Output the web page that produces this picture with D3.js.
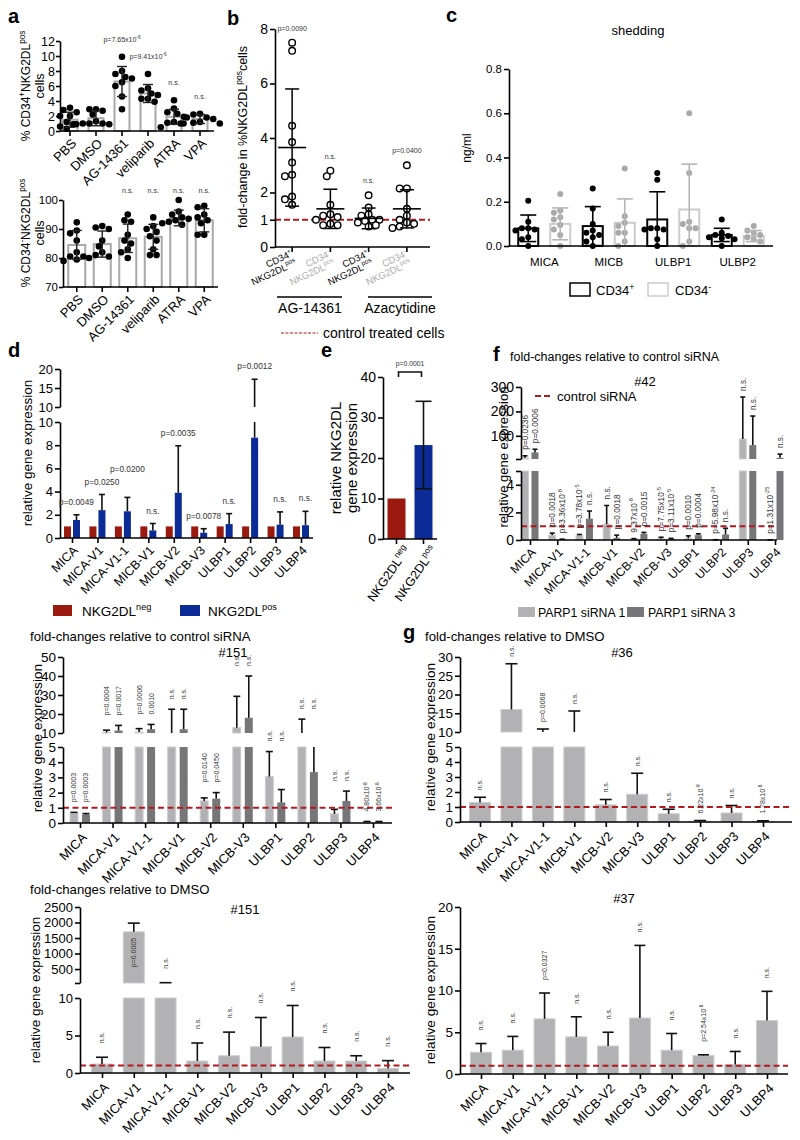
<!DOCTYPE html>
<html><head><meta charset="utf-8">
<script src="https://cdn.jsdelivr.net/npm/d3@7"></script>
<style>body{margin:0;background:#fff} svg text{-webkit-font-smoothing:antialiased}</style>
</head><body>
<svg id="fig" width="800" height="1140"></svg>
<script>
// ---------------- DATA ----------------
const treatments = ["PBS","DMSO","AG-14361","veliparib","ATRA","VPA"];
const aTopMean = [1.5,1.7,6.6,5.0,1.9,1.6];
const aTopSD = [1.0,1.0,2.0,1.2,1.0,0.6];
const aTopPts = [[3.1,2.8,2.5,2.0,2.0,1.2,0.9,0.6,0.3],[2.9,2.9,2.7,2.2,1.3,1.0,1.0,0.9,0.9,1.0],[9.9,8.0,7.6,7.2,7.0,6.5,6.0,4.6,2.9],[7.6,5.7,5.4,5.0,4.8,4.3,4.3,3.9],[4.1,3.0,2.5,2.3,1.9,1.2,1.1,1.0,0.5],[2.3,2.2,1.8,1.8,1.6,1.2,1.1,1.0,1.0]];
const aTopP = ["","","p=7.65x10{-6}","p=9.41x10{-6}","n.s.","n.s."];
const aBotMean = [84.5,84.8,86.8,87.3,93.8,93.0];
const aBotSD = [5.0,4.5,4.9,4.3,2.7,4.0];
const aBotPts = [[92.3,89.5,88.5,86,82,80.5,79.5,79,80.5],[91,90.5,90,86,84,82,80.5,80,81],[95,93,92.5,88,86,85,83,80,82],[94,91,90,89,87.5,86,83,81,81],[100,96,95,94,93.5,93,92.5,92,91.5],[98,97.5,95,94,93,92,88,88]];
const aBotP = ["","","n.s.","n.s.","n.s.","n.s."];

const bLine1 = ["CD34{+}","CD34{-}","CD34{+}","CD34{-}"];
const bLine2 = ["NKG2DL{pos}","NKG2DL{pos}","NKG2DL{pos}","NKG2DL{pos}"];
const bMean = [3.65,1.4,1.05,1.4];
const bSD = [2.15,0.72,0.38,0.7];
const bPts = [[7.5,7.2,4.45,3.85,3.1,2.65,2.6,1.85,1.75,1.55],[2.8,2.6,1.55,1.2,1.15,1.1,1.0,0.85,0.8,0.8],[1.9,1.45,1.2,1.15,1.0,1.0,0.95,0.9,0.8,0.75],[3.0,2.15,2.15,1.4,1.15,1.0,0.9,0.85,0.75,0.7]];
const bP = ["p=0.0090","n.s.","n.s.","p=0.0400"];
const bGroups = ["AG-14361","Azacytidine"];

const cCats = ["MICA","MICB","ULBP1","ULBP2"];
const cPosMean = [0.08,0.09,0.12,0.05];
const cPosSD = [0.06,0.088,0.125,0.03];
const cNegMean = [0.1,0.105,0.165,0.045];
const cNegSD = [0.072,0.108,0.205,0.025];
const cPosPts = [[0.205,0.11,0.08,0.08,0.075,0.07,0.04,0.03,0.0],[0.26,0.17,0.1,0.07,0.06,0.05,0.04,0.02,0.0],[0.33,0.30,0.08,0.08,0.075,0.075,0.03,0.0],[0.12,0.06,0.05,0.045,0.04,0.035,0.03,0.0]];
const cNegPts = [[0.235,0.16,0.15,0.13,0.12,0.095,0.075,0.05,0.0],[0.35,0.135,0.105,0.09,0.06,0.06,0.02,0.0],[0.6,0.33,0.11,0.1,0.08,0.08,0.02,0.0],[0.09,0.07,0.06,0.05,0.04,0.03,0.02]];

const genes = ["MICA","MICA-V1","MICA-V1-1","MICB-V1","MICB-V2","MICB-V3","ULBP1","ULBP2","ULBP3","ULBP4"];
const dNeg = [1,1,1,1,1,1,1,1,1,1];
const dPos = [1.55,2.4,2.3,0.65,3.9,0.45,1.2,8.65,1.15,1.1];
const dPosErr = [2.0,3.75,3.5,1.25,7.95,0.8,2.1,17.3,2.25,2.3];
const dP = ["p=0.0049","p=0.0250","p=0.0200","n.s.","p=0.0035","p=0.0078","n.s.","p=0.0012","n.s.","n.s."];

const eCats = ["NKG2DL{neg}","NKG2DL{pos}"];
const eVals = [10,23.2];
const eSD = [0,10.8];

const f1 = [10,0.35,0.35,1.15,0.08,0.1,0.12,0.02,87,0.01];
const f1Err = [18,0.5,0.4,2.5,0.1,0.2,0.3,0.02,259,0.01];
const f3 = [32,0.05,1.55,0.15,0.45,0.08,0.35,0.4,62,10];
const f3Err = [45,0.06,2.1,0.35,0.55,0.12,0.45,0.85,181,25];
const f1P = ["p=0.0236","p=0.0018","p=3.78x10{-5}","n.s.","9.37x10{-8}","p=7.75x10{-5}","p=0.0010","p=5.98x10{-24}","n.s.","p=1.31x10{-25}"];
const f3P = ["p=0.0006","p=3.36x10{-8}","n.s.","p=0.0018","p=0.0015","p=3.11x10{-5}","p=0.0004","n.s.","n.s.","n.s."];

const s151a = [0.65,10.3,10.5,9.5,1.45,12.8,3.05,9.5,0.6,0.07];
const s151aErr = [0.7,11.5,12.3,22.5,1.65,29.3,4.7,17.3,0.9,0.1];
const s151b = [0.55,11.3,12.0,12.0,1.6,18.0,1.35,3.35,1.45,0.08];
const s151bErr = [0.62,14.0,14.5,22.5,2.0,40.0,2.2,7.0,2.1,0.1];
const s151aP = ["p=0.0003","p=0.0004","p=0.0006","n.s.","p=0.0140","n.s.","n.s.","n.s.","n.s.","4.80x10{-8}"];
const s151bP = ["p=0.0003","p=0.0017","0.0010","n.s.","p=0.0450","n.s.","n.s.","n.s.","n.s.","3.66x10{-8}"];

const g36 = [1.3,16,8,7,1.15,1.85,0.55,0.05,0.6,0.03];
const g36Err = [1.65,28.2,10.8,15.6,1.5,3.25,0.85,0.1,1.1,0.08];
const g36P = ["n.s.","n.s.","p=0.0068","n.s.","n.s.","n.s.","n.s.","6.22x10{-9}","n.s.","1.78x10{-8}"];

const d151 = [1.2,1700,30,1.6,2.3,3.5,4.8,1.6,1.6,0.6];
const d151Err = [2.1,1980,60,4.0,5.45,7.4,9.0,3.4,2.3,1.65];
const d151P = ["n.s.","p=0.0005","n.s.","n.s.","n.s.","n.s.","n.s.","n.s.","n.s.","n.s."];

const g37 = [2.6,2.85,6.6,4.45,3.35,6.7,2.85,2.2,1.15,6.4];
const g37Err = [3.65,4.5,9.7,6.85,5.0,15.4,4.85,2.3,2.7,9.9];
const g37P = ["n.s.","n.s.","p=0.0327","n.s.","n.s.","n.s.","n.s.","p=2.54x10{-6}","n.s.","n.s."];

// ---------------- HELPERS ----------------
const FF = "'Liberation Sans', Arial, Helvetica, sans-serif";
const svg = d3.select("#fig").attr("font-family", FF);
const RED = "#b3191d", LG = "#b2b2b5", DG = "#767678", BRED = "#9a1a10", BLUE = "#0b2b97";

function rich(t, str, fs) {
  const parts = str.split(/(\{[^}]*\})/).filter(s => s.length);
  let up = false;
  parts.forEach(p => {
    if (p[0] === "{") {
      t.append("tspan").attr("font-size", fs * 0.68).attr("dy", -fs * 0.42).text(p.slice(1, -1));
      up = true;
    } else {
      const s = t.append("tspan").text(p);
      if (up) { s.attr("dy", fs * 0.42); up = false; }
    }
  });
}
function T(g, x, y, str, o = {}) {
  const fs = o.fs || 13;
  const t = g.append("text").attr("x", x).attr("y", y).attr("font-size", fs)
    .attr("fill", o.fill || "#000").attr("text-anchor", o.anchor || "start");
  if (o.rot != null) t.attr("transform", `rotate(${o.rot},${x},${y})`);
  if (o.dy) t.attr("dy", o.dy);
  if (o.weight) t.attr("font-weight", o.weight);
  rich(t, str, fs);
  return t;
}
function L(g, x1, y1, x2, y2, c = "#000", w = 1.6, dash) {
  const l = g.append("line").attr("x1", x1).attr("y1", y1).attr("x2", x2).attr("y2", y2)
    .attr("stroke", c).attr("stroke-width", w);
  if (dash) l.attr("stroke-dasharray", dash);
  return l;
}
function styleAx(a, fs) {
  a.attr("font-family", FF).attr("font-size", fs);
  a.selectAll("path,line").attr("stroke", "#000").attr("stroke-width", 1.6);
  a.selectAll("text").attr("fill", "#000");
}
function yAx(g, x, sc, ticks, fs, fmt, hide, tsz, pad) {
  const a = g.append("g").attr("transform", `translate(${x},0)`)
    .call(d3.axisLeft(sc).tickValues(ticks).tickSize(tsz || 5).tickSizeOuter(0).tickPadding(pad != null ? pad : 2)
      .tickFormat(v => (hide && hide.includes(v)) ? "" : (fmt ? fmt(v) : v)));
  styleAx(a, fs);
  return a;
}
function xAx(g, sc, y, x0, x1, fs, lx, ly, ang, keepText) {
  const a = g.append("g").attr("transform", `translate(0,${y})`)
    .call(d3.axisBottom(sc).tickSize(5).tickSizeOuter(0));
  a.select(".domain").remove();
  styleAx(a, fs);
  if (keepText) {
    a.selectAll(".tick text").attr("text-anchor", "end").attr("x", 0).attr("y", 0).attr("dy", "0.35em")
      .attr("transform", `translate(${lx},${ly}) rotate(${ang})`);
  } else a.selectAll(".tick text").remove();
  L(g, x0, y, x1, y);
  return a;
}
function swarm(vals, ysc, r, step) {
  const idx = vals.map((v, i) => i).sort((a, b) => vals[b] - vals[a]);
  const pos = new Array(vals.length), placed = [];
  idx.forEach(i => {
    const py = ysc(vals[i]);
    const cands = [0];
    for (let k = 1; k <= 6; k++) cands.push(-k * step, k * step);
    pos[i] = 0;
    for (const c of cands) {
      if (placed.every(p => Math.hypot(p.x - c, p.y - py) >= 2 * r * 0.92)) { pos[i] = c; break; }
    }
    placed.push({ x: pos[i], y: py });
  });
  return pos;
}
function plain(s) { return s.replace(/[{}]/g, ""); }

// ---------------- PANEL a ----------------
function panelA(cfg) {
  const g = svg.append("g");
  const x = d3.scaleBand().domain(treatments).range(cfg.xr);
  const y = d3.scaleLinear().domain(cfg.dom).range(cfg.yr);
  const bw = cfg.bw;
  treatments.forEach((t, i) => {
    const cx = x(t) + x.bandwidth() / 2;
    g.append("rect").attr("x", cx - bw / 2).attr("y", y(cfg.mean[i])).attr("width", bw)
      .attr("height", y(cfg.dom[0]) - y(cfg.mean[i])).attr("fill", "#fff").attr("stroke", "#a8a8a8").attr("stroke-width", 2);
    const off = swarm(cfg.pts[i], y, 3.3, 3.3);
    cfg.pts[i].forEach((v, j) => g.append("circle").attr("cx", cx + off[j]).attr("cy", y(v)).attr("r", 3.3).attr("fill", "#000"));
    const lo = cfg.mean[i] - cfg.sd[i], hi = cfg.mean[i] + cfg.sd[i];
    L(g, cx, y(lo), cx, y(hi), "#222", 1.4);
    L(g, cx - 5, y(lo), cx + 5, y(lo), "#222", 1.4);
    L(g, cx - 5, y(hi), cx + 5, y(hi), "#222", 1.4);
    if (cfg.p[i]) {
      const ly = cfg.pFixed != null ? cfg.pFixed : y(Math.max(hi, d3.max(cfg.pts[i]))) - 15;
      T(g, cx, ly, cfg.p[i], { fs: 7, anchor: "middle", fill: "#333" });
    }
  });
  yAx(g, cfg.ax, y, cfg.ticks, cfg.tfs, null, null, 4, 1);
  xAx(g, x, cfg.yr[0], cfg.ax, cfg.xr[1] + 1, 13, 4, 10, -45, true);
  T(g, 26, cfg.lc, cfg.ylab, { fs: 12, anchor: "middle", rot: -90, dy: "0.35em" });
  T(g, 40, cfg.lc, "cells", { fs: 12.5, anchor: "middle", rot: -90, dy: "0.35em" });
}
panelA({ xr: [57, 213], dom: [0, 12], yr: [131, 41], bw: 15, mean: aTopMean, sd: aTopSD, pts: aTopPts, p: aTopP, tfs: 12.5,
  ticks: [0, 2, 4, 6, 8, 10, 12], ax: 60, lc: 86, ylab: "% CD34{+}NKG2DL{pos}" });
panelA({ xr: [64, 217], dom: [70, 100], yr: [287, 200], bw: 17, mean: aBotMean, sd: aBotSD, pts: aBotPts, p: aBotP, pFixed: 193, tfs: 11.5,
  ticks: [70, 80, 90, 100], ax: 63, lc: 233, ylab: "% CD34{-}NKG2DL{pos}" });
T(svg, 8, 23, "a", { fs: 20, weight: "bold" });

// ---------------- PANEL b ----------------
(function () {
  const g = svg.append("g");
  const x = d3.scaleBand().domain([0, 1, 2, 3]).range([273, 426]);
  const y = d3.scaleLinear().domain([0, 8]).range([247, 29]);
  L(g, 275, y(1), 430, y(1), RED, 2, "6,3");
  bMean.forEach((m, i) => {
    const cx = x(i) + x.bandwidth() / 2;
    const off = swarm(bPts[i], y, 3.5, 3.6);
    bPts[i].forEach((v, j) => g.append("circle").attr("cx", cx + off[j]).attr("cy", y(v)).attr("r", 3.3)
      .attr("fill", "#fff").attr("stroke", "#000").attr("stroke-width", 1.4));
    const lo = m - bSD[i], hi = m + bSD[i];
    L(g, cx, y(lo), cx, y(hi), "#000", 1.5);
    L(g, cx - 7, y(lo), cx + 7, y(lo), "#000", 1.5);
    L(g, cx - 7, y(hi), cx + 7, y(hi), "#000", 1.5);
    L(g, cx - 14, y(m), cx + 14, y(m), "#000", 1.6);
    T(g, cx, y(Math.max(hi, d3.max(bPts[i]))) - 12, bP[i], { fs: 7, anchor: "middle", fill: "#333" });
    const col = i % 2 ? "#aaaaaa" : "#000";
    T(g, cx + 1, 256, bLine1[i], { fs: 9.5, anchor: "end", rot: -25, fill: col });
    T(g, cx + 5, 265, bLine2[i], { fs: 9.5, anchor: "end", rot: -25, fill: col });
  });
  yAx(g, 275, y, [0, 1, 2, 4, 6, 8], 14);
  xAx(g, x, 247, 275, 430, 10, 0, 0, 0, false);
  L(g, 277, 297, 342, 297, "#000", 1.3);
  L(g, 368, 297, 432, 297, "#000", 1.3);
  T(g, 310, 313, bGroups[0], { fs: 14, anchor: "middle" });
  T(g, 400, 313, bGroups[1], { fs: 14, anchor: "middle" });
  L(g, 281, 333, 318, 333, RED, 1.2, "3,1.5");
  T(g, 323, 338, "control treated cells", { fs: 14 });
  T(g, 243, 137, "fold-change in %NKG2DL{pos}cells", { fs: 12.5, anchor: "middle", rot: -90, dy: "0.35em" });
  T(g, 227, 25, "b", { fs: 20, weight: "bold" });
})();

// ---------------- PANEL c ----------------
(function () {
  const g = svg.append("g");
  const x = d3.scaleBand().domain(cCats).range([512, 770]);
  const y = d3.scaleLinear().domain([0, 0.8]).range([246, 69]);
  const series = [
    { m: cPosMean, sd: cPosSD, pts: cPosPts, dx: -16, stroke: "#000", dot: "#000", err: "#000" },
    { m: cNegMean, sd: cNegSD, pts: cNegPts, dx: 16, stroke: "#cbcbcb", dot: "#a9a9a9", err: "#b5b5b5" }];
  series.forEach(s => {
    cCats.forEach((c, i) => {
      const cx = x(c) + x.bandwidth() / 2 + s.dx;
      g.append("rect").attr("x", cx - 10).attr("y", y(s.m[i])).attr("width", 20).attr("height", y(0) - y(s.m[i]))
        .attr("fill", "#fff").attr("stroke", s.stroke).attr("stroke-width", 2);
      const off = swarm(s.pts[i], y, 3, 3.2);
      s.pts[i].forEach((v, j) => g.append("circle").attr("cx", cx + off[j]).attr("cy", y(v)).attr("r", 3).attr("fill", s.dot));
      const lo = Math.max(0, s.m[i] - s.sd[i]), hi = s.m[i] + s.sd[i];
      L(g, cx, y(lo), cx, y(hi), s.err, 1.6);
      L(g, cx - 8, y(hi), cx + 8, y(hi), s.err, 1.6);
      L(g, cx - 8, y(lo), cx + 8, y(lo), s.err, 1.6);
    });
  });
  yAx(g, 509, y, [0, 0.2, 0.4, 0.6, 0.8], 11.5, d3.format(".1f"));
  const xa = g.append("g").attr("transform", "translate(0,246)").call(d3.axisBottom(x).tickSize(0).tickSizeOuter(0));
  xa.select(".domain").remove();
  styleAx(xa, 11.5);
  xa.selectAll(".tick text").attr("y", 12);
  L(g, 509, 246, 773, 246);
  T(g, 638, 35, "shedding", { fs: 13, anchor: "middle" });
  T(g, 467, 148, "ng/ml", { fs: 12, anchor: "middle", rot: -90, dy: "0.35em" });
  g.append("rect").attr("x", 570).attr("y", 283).attr("width", 20).attr("height", 13).attr("fill", "#fff").attr("stroke", "#000").attr("stroke-width", 1.5);
  T(g, 596, 295, "CD34{+}", { fs: 13 });
  g.append("rect").attr("x", 648).attr("y", 283).attr("width", 20).attr("height", 13).attr("fill", "#fff").attr("stroke", "#cccccc").attr("stroke-width", 1.5);
  T(g, 675, 295, "CD34{-}", { fs: 13 });
  T(g, 446, 22, "c", { fs: 20, weight: "bold" });
})();

// ---------------- GENE PANELS ----------------
function genePanel(o) {
  const g = svg.append("g");
  const x = d3.scalePoint().domain(genes).range(o.xr);
  const segs = o.segs.map(s => ({ d: s.d, r: s.r, ticks: s.ticks, hide: s.hide || [], y: d3.scaleLinear().domain(s.d).range(s.r) }));
  const base = segs[0].r[0];
  const topR = segs[segs.length - 1].r[1];
  const yOf = v => {
    for (let k = 0; k < segs.length; k++) {
      const s = segs[k];
      if (v < s.d[0]) return k > 0 ? segs[k - 1].r[1] : s.r[0];
      if (v <= s.d[1]) return s.y(v);
    }
    return topR;
  };
  o.series.forEach(se => {
    genes.forEach((gn, i) => {
      const v = se.v[i], cx = x(gn) + se.dx;
      segs.forEach(s => {
        if (v > s.d[0]) {
          const yt = s.y(Math.min(v, s.d[1]));
          g.append("rect").attr("x", cx - se.w / 2).attr("y", yt).attr("width", se.w).attr("height", s.y(s.d[0]) - yt)
            .attr("fill", se.fill).attr("stroke", se.stroke || "none").attr("stroke-width", 1);
        }
      });
    });
  });
  o.series.forEach(se => {
    if (!se.e) return;
    genes.forEach((gn, i) => {
      const v = se.v[i], e = se.e[i], cx = x(gn) + se.dx;
      segs.forEach(s => {
        const a = Math.max(v, s.d[0]), b = Math.min(e, s.d[1]);
        if (b > a) L(g, cx, s.y(a), cx, s.y(b), "#111", 1.6);
        if (e >= s.d[0] && e <= s.d[1]) L(g, cx - o.cap / 2, s.y(e), cx + o.cap / 2, s.y(e), "#111", 1.6);
      });
    });
  });
  if (o.ctrl) L(g, o.ax, segs[0].y(1), o.xend, segs[0].y(1), RED, 2, "6,3.5");
  segs.forEach(s => yAx(g, o.ax, s.y, s.ticks, o.tfs, null, s.hide));
  xAx(g, x, base, o.ax, o.xend, o.cfs, o.lx, o.ly, -45, true);
  let prev = null;
  o.series.forEach(se => {
    if (!se.lab) return;
    genes.forEach((gn, i) => {
      const lab = se.lab[i];
      if (!lab) return;
      const top = o.pair ? d3.max(o.series, s => s.e ? s.e[i] : s.v[i]) : se.e[i];
      let yy = yOf(top) - o.loff;
      const cx = x(gn) + se.dx;
      if (o.horiz) {
        const w = plain(lab).length * 0.52 * o.lfs;
        if (prev && cx - w / 2 < prev.x + prev.w / 2 + 1 && Math.abs(yy - prev.y) < o.lfs + 2) yy = prev.y - o.lfs - 4;
        T(g, cx, yy, lab, { fs: o.lfs, anchor: "middle", fill: "#333" });
        prev = { x: cx, y: yy, w };
        return;
      }
      const len = plain(lab).length * 0.55 * o.lfs;
      if (yy - len < topR - 22) T(g, cx, yOf(se.v[i]) + 6, lab, { fs: o.lfs, anchor: "end", rot: -90, dy: "0.35em", fill: "#333" });
      else T(g, cx, yy, lab, { fs: o.lfs, anchor: "start", rot: -90, dy: "0.35em", fill: "#333" });
    });
  });
  if (o.title) T(g, o.title[1], o.title[2], o.title[0], { fs: o.title[3] || 13 });
  if (o.hash) T(g, o.hash[1], o.hash[2], o.hash[0], { fs: 13, anchor: "middle" });
  T(g, o.ylab[0], o.ylab[1], "relative gene expression", { fs: o.ylab[2], anchor: "middle", rot: -90, dy: "0.35em" });
  return g;
}

// d
genePanel({ xr: [72, 301], ax: 60, xend: 313, cap: 6, tfs: 13, cfs: 12.5, lx: 3, ly: 10, lfs: 8.3, loff: 10, horiz: true,
  segs: [{ d: [0, 10], r: [538, 422], ticks: [0, 2, 4, 6, 8, 10] }, { d: [10, 20], r: [407, 369], ticks: [10, 15, 20] }],
  series: [{ v: dNeg, fill: BRED, dx: -4.5, w: 7 }, { v: dPos, e: dPosErr, fill: BLUE, dx: 4.5, w: 7, lab: dP }],
  ylab: [27, 453, 13.5] });
(function () {
  const g = svg.append("g");
  g.append("rect").attr("x", 53).attr("y", 605).attr("width", 19).attr("height", 11).attr("fill", BRED);
  T(g, 82, 616, "NKG2DL{neg}", { fs: 13.5 });
  g.append("rect").attr("x", 180).attr("y", 605).attr("width", 20).attr("height", 11).attr("fill", BLUE);
  T(g, 208, 616, "NKG2DL{pos}", { fs: 13.5 });
  T(g, 8, 357, "d", { fs: 20, weight: "bold" });
})();

// e
(function () {
  const g = svg.append("g");
  const x = d3.scaleBand().domain(eCats).range([383, 437]);
  const y = d3.scaleLinear().domain([0, 40]).range([539, 377]);
  const cols = [BRED, BLUE];
  eCats.forEach((c, i) => {
    const cx = x(c) + x.bandwidth() / 2;
    g.append("rect").attr("x", cx - 9).attr("y", y(eVals[i])).attr("width", 18).attr("height", y(0) - y(eVals[i])).attr("fill", cols[i]);
    if (eSD[i] > 0) {
      const lo = eVals[i] - eSD[i], hi = eVals[i] + eSD[i];
      L(g, cx, y(lo), cx, y(hi), "#111", 1.6);
      L(g, cx - 8, y(lo), cx + 8, y(lo), "#111", 1.6);
      L(g, cx - 8, y(hi), cx + 8, y(hi), "#111", 1.6);
    }
    T(g, cx + 14, 550, c, { fs: 12.5, anchor: "end", rot: -55 });
  });
  const c0 = x(eCats[0]) + x.bandwidth() / 2 + 2, c1 = x(eCats[1]) + x.bandwidth() / 2 - 2;
  g.append("path").attr("d", `M${c0},377V372H${c1}V377`).attr("fill", "none").attr("stroke", "#111").attr("stroke-width", 1.6);
  T(g, (c0 + c1) / 2, 366, "p=0.0001", { fs: 6.8, anchor: "middle", fill: "#333" });
  yAx(g, 383, y, [0, 10, 20, 30, 40], 14);
  xAx(g, x, 539, 383, 437, 10, 0, 0, 0, false);
  T(g, 336, 458, "relative NKG2DL", { fs: 15, anchor: "middle", rot: -90, dy: "0.35em" });
  T(g, 352, 458, "gene expression", { fs: 15, anchor: "middle", rot: -90, dy: "0.35em" });
  T(g, 321, 357, "e", { fs: 20, weight: "bold" });
})();

// f
genePanel({ xr: [530, 775], ax: 521, xend: 777, cap: 5, tfs: 14, cfs: 12, lx: 3, ly: 10, lfs: 8.3, loff: 6, ctrl: true,
  segs: [{ d: [0, 5], r: [540, 471], ticks: [0, 2, 4, 5], hide: [5] }, { d: [5, 300], r: [459, 387], ticks: [5, 100, 200, 300], hide: [5] }],
  series: [{ v: f1, e: f1Err, fill: LG, stroke: "#cdcdcf", dx: -5, w: 7, lab: f1P }, { v: f3, e: f3Err, fill: DG, dx: 5, w: 7, lab: f3P }],
  title: ["fold-changes relative to control siRNA", 510, 361, 12.5], hash: ["#42", 645, 386], ylab: [503, 457, 13] });
(function () {
  const g = svg.append("g");
  L(g, 535, 396, 552, 396, RED, 2, "6,3");
  T(g, 557, 401, "control siRNA", { fs: 13 });
  g.append("rect").attr("x", 518).attr("y", 607).attr("width", 17).attr("height", 10).attr("fill", LG);
  T(g, 538, 617, "PARP1 siRNA 1", { fs: 12.3 });
  g.append("rect").attr("x", 627).attr("y", 607).attr("width", 17).attr("height", 10).attr("fill", DG);
  T(g, 648, 617, "PARP1 siRNA 3", { fs: 12.3 });
  T(g, 493, 361, "f", { fs: 20, weight: "bold" });
})();

// #151 siRNA
genePanel({ xr: [80, 373], ax: 63, xend: 392, cap: 7, tfs: 13.5, cfs: 13, lx: 4, ly: 12, lfs: 7, loff: 10, ctrl: true, pair: true,
  segs: [{ d: [0, 5], r: [823, 747], ticks: [0, 1, 2, 3, 4, 5] }, { d: [10, 50], r: [733, 657], ticks: [10, 20, 30, 40, 50] }],
  series: [{ v: s151a, e: s151aErr, fill: LG, stroke: "#cdcdcf", dx: -6, w: 8, lab: s151aP }, { v: s151b, e: s151bErr, fill: DG, dx: 6, w: 8, lab: s151bP }],
  title: ["fold-changes relative to control siRNA", 30, 641, 13.2], hash: ["#151", 233, 657], ylab: [37, 738, 13.7] });

// g #36
genePanel({ xr: [480, 763], ax: 460, xend: 792, cap: 12, tfs: 13.5, cfs: 13, lx: 4, ly: 12, lfs: 7, loff: 7, ctrl: true,
  segs: [{ d: [0, 5], r: [822, 747], ticks: [0, 1, 2, 3, 4, 5] }, { d: [10, 30], r: [732, 657], ticks: [10, 15, 20, 25, 30] }],
  series: [{ v: g36, e: g36Err, fill: LG, stroke: "#cdcdcf", dx: 0, w: 21, lab: g36P }],
  title: ["fold-changes relative to DMSO", 425, 641, 13.2], hash: ["#36", 622, 657], ylab: [430, 737, 13.7] });
T(svg, 403, 639, "g", { fs: 20, weight: "bold" });

// DMSO #151
genePanel({ xr: [102, 388], ax: 80, xend: 410, cap: 12, tfs: 13, cfs: 13, lx: 4, ly: 12, lfs: 7, loff: 14, ctrl: true,
  segs: [{ d: [0, 10], r: [1073, 998], ticks: [0, 5, 10] }, { d: [50, 2500], r: [983, 907], ticks: [50, 500, 1000, 1500, 2000, 2500], hide: [50] }],
  series: [{ v: d151, e: d151Err, fill: LG, stroke: "#cdcdcf", dx: 0, w: 21, lab: d151P }],
  title: ["fold-changes relative to DMSO", 30, 894, 13.2], hash: ["#151", 245, 914], ylab: [35, 990, 13.5] });

// #37
genePanel({ xr: [481, 767], ax: 460, xend: 788, cap: 11, tfs: 13.5, cfs: 13, lx: 4, ly: 12, lfs: 7, loff: 13, ctrl: true,
  segs: [{ d: [0, 20], r: [1074, 907], ticks: [0, 5, 10, 15, 20] }],
  series: [{ v: g37, e: g37Err, fill: LG, stroke: "#cdcdcf", dx: 0, w: 21, lab: g37P }],
  hash: ["#37", 624, 903], ylab: [430, 990, 13.7] });
</script>
</body></html>
